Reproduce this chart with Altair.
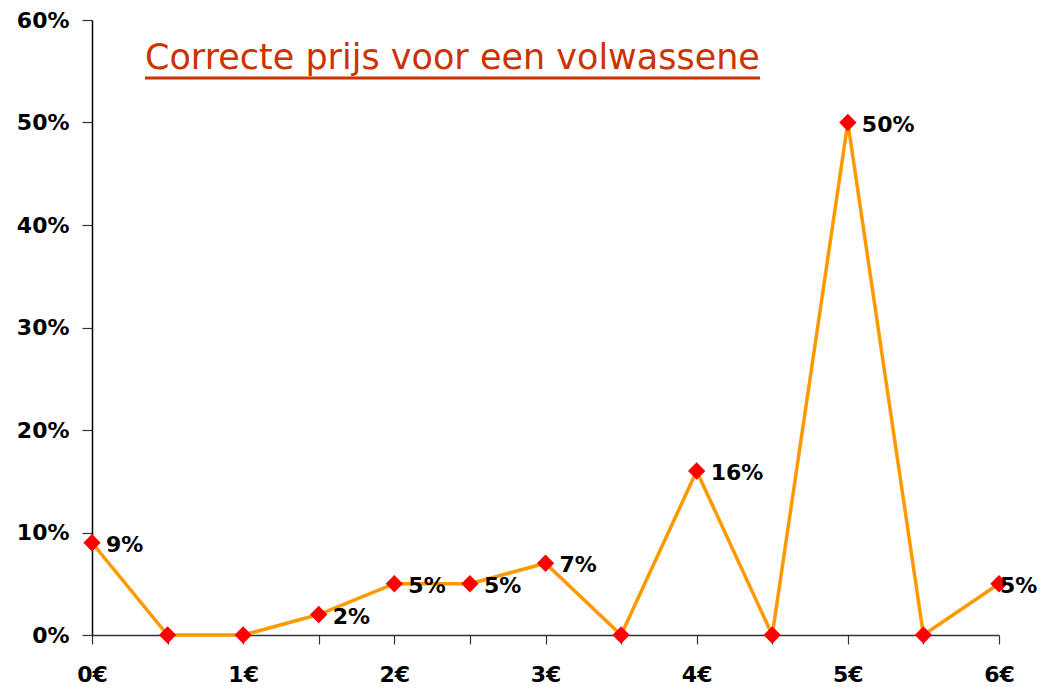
import altair as alt
import pandas as pd

prices = [0, 0.5, 1, 1.5, 2, 2.5, 3, 3.5, 4, 4.5, 5, 5.5, 6]
shares = [9, 0, 0, 2, 5, 5, 7, 0, 16, 0, 50, 0, 5]
x_ticks = [0, 0.5, 1, 1.5, 2, 2.5, 3, 3.5, 4, 4.5, 5, 5.5, 6]
y_ticks = [0, 10, 20, 30, 40, 50, 60]
title_text = "Correcte prijs voor een volwassene"

df = pd.DataFrame({"price": prices, "share": shares})
df["label"] = df["share"].astype(str) + "%"
df["idx"] = range(len(df))

FONT = "DejaVu Sans"

x_enc = alt.X(
    "price:Q",
    scale=alt.Scale(domain=[0, 6], nice=False, zero=False),
    axis=alt.Axis(
        values=x_ticks,
        labelExpr="datum.value % 1 == 0 ? datum.value + '€' : ''",
        title=None,
        grid=False,
        domainColor="#333333",
        domainWidth=1.5,
        tickColor="#333333",
        tickWidth=1.2,
        tickSize=9,
        labelPadding=20,
        labelFont=FONT,
        labelFontSize=22,
        labelFontWeight="bold",
        labelColor="black",
        labelFlush=False,
    ),
)
y_enc = alt.Y(
    "share:Q",
    scale=alt.Scale(domain=[0, 60], nice=False),
    axis=alt.Axis(
        values=y_ticks,
        labelExpr="datum.value + '%'",
        title=None,
        grid=False,
        domainColor="black",
        domainWidth=1.5,
        tickColor="#333333",
        tickWidth=1.2,
        tickSize=10,
        labelPadding=13,
        labelFont=FONT,
        labelFontSize=22,
        labelFontWeight="bold",
        labelColor="black",
    ),
)

base = alt.Chart(df)

line = base.mark_line(color="#FF9900", strokeWidth=3.5).encode(x=x_enc, y=y_enc)
points = base.mark_point(
    shape="diamond", filled=True, color="#FF0000", size=300, opacity=1
).encode(x="price:Q", y="share:Q")

labels = base.transform_filter(
    (alt.datum.share > 0) & (alt.datum.idx < len(prices) - 1)
).mark_text(
    align="left", baseline="middle", dx=14, dy=2,
    font=FONT, fontSize=22, fontWeight="bold", color="black"
).encode(x="price:Q", y="share:Q", text="label:N")

last_label = base.transform_filter(
    alt.datum.idx == len(prices) - 1
).mark_text(
    align="left", baseline="middle", dx=1, dy=2,
    font=FONT, fontSize=22, fontWeight="bold", color="black"
).encode(x="price:Q", y="share:Q", text="label:N")

title_df = pd.DataFrame({"t": [title_text]})
title = alt.Chart(title_df).mark_text(
    align="left", baseline="alphabetic",
    font=FONT, fontSize=35, color="#CC3300"
).encode(x=alt.value(53), y=alt.value(49), text="t:N")
underline = alt.Chart(title_df).mark_rule(
    color="#CC3300", strokeWidth=3
).encode(x=alt.value(53), x2=alt.value(668), y=alt.value(58))

chart = alt.layer(line, points, labels, last_label, title, underline).properties(
    width=907,
    height=615,
    background="white",
    autosize=alt.AutoSizeParams(type="none"),
    padding={"left": 84, "top": 12, "right": 45, "bottom": 52},
).configure_view(stroke=None)

chart.save("out.html", embed_options={"renderer": "svg", "actions": False})
